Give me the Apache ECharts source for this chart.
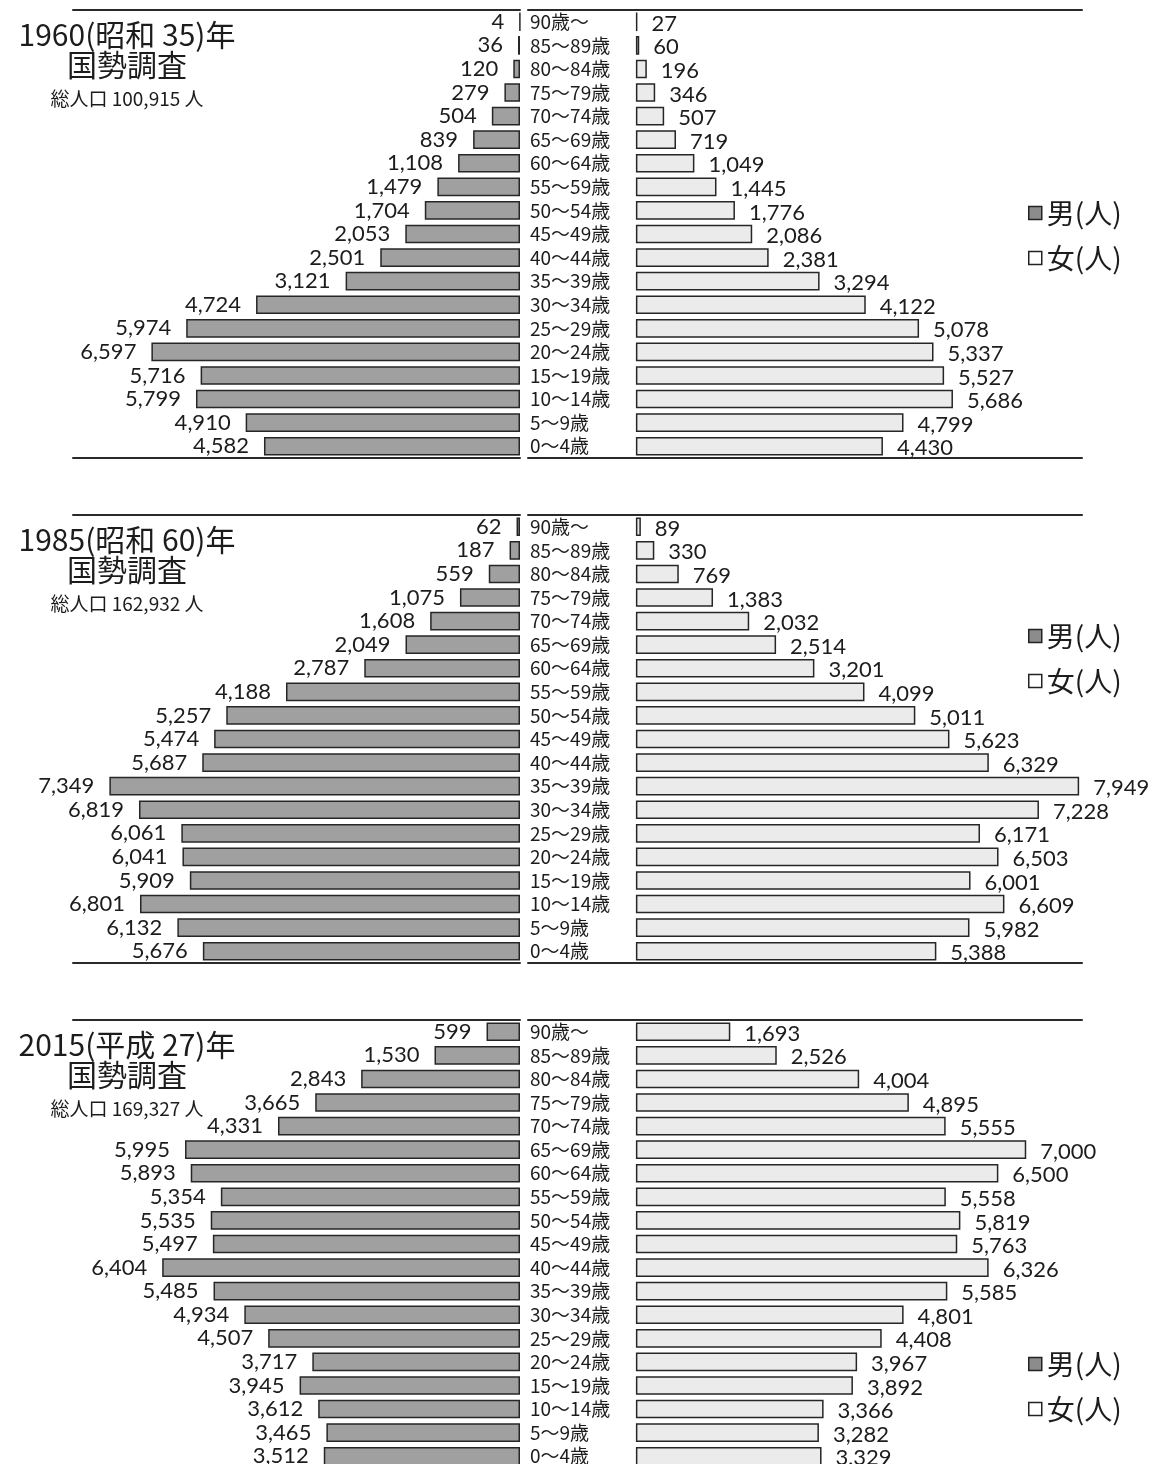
<!DOCTYPE html>
<html><head><meta charset="utf-8">
<script src="https://cdn.jsdelivr.net/npm/echarts@6/dist/echarts.min.js"></script>
<style>html,body{margin:0;padding:0;background:#fff}#c{width:1150px;height:1464px}</style>
</head><body><div id="c"></div>
<script>
// ---- data ----
const ages = ['90歳～','85～89歳','80～84歳','75～79歳','70～74歳','65～69歳','60～64歳','55～59歳','50～54歳','45～49歳','40～44歳','35～39歳','30～34歳','25～29歳','20～24歳','15～19歳','10～14歳','5～9歳','0～4歳'];
const male1960   = [4,36,120,279,504,839,1108,1479,1704,2053,2501,3121,4724,5974,6597,5716,5799,4910,4582];
const female1960 = [27,60,196,346,507,719,1049,1445,1776,2086,2381,3294,4122,5078,5337,5527,5686,4799,4430];
const male1985   = [62,187,559,1075,1608,2049,2787,4188,5257,5474,5687,7349,6819,6061,6041,5909,6801,6132,5676];
const female1985 = [89,330,769,1383,2032,2514,3201,4099,5011,5623,6329,7949,7228,6171,6503,6001,6609,5982,5388];
const male2015   = [599,1530,2843,3665,4331,5995,5893,5354,5535,5497,6404,5485,4934,4507,3717,3945,3612,3465,3512];
const female2015 = [1693,2526,4004,4895,5555,7000,6500,5558,5819,5763,6326,5585,4801,4408,3967,3892,3366,3282,3329];
const panelTitles = ['1960(昭和 35)年\n国勢調査','1985(昭和 60)年\n国勢調査','2015(平成 27)年\n国勢調査'];
const panelTotals = ['総人口 100,915 人','総人口 162,932 人','総人口 169,327 人'];
const seriesNames = ['男(人)','女(人)'];
const axisMax = 8000;
const femaleAxisMin = -1935;

// ---- layout ----
const panelMale = [male1960, male1985, male2015];
const panelFemale = [female1960, female1985, female2015];
const panelTops = [10, 515, 1020];
const legendTops = [194, 617, 1345];
const PANEL_H = 448;

const CJK = '"Noto Sans CJK JP", sans-serif';
const NUM = 'Lato, "Noto Sans", sans-serif';
const INK = '#1c1c1c';
const fmt = p => Number(p.value).toLocaleString('en-US');

const grid = [], xAxis = [], yAxis = [], series = [], title = [], legend = [];

panelTops.forEach((top, i) => {
  const gL = i * 2, gR = i * 2 + 1;
  grid.push({ left: 73, top: top, width: 447, height: PANEL_H, containLabel: false, outerBoundsMode: 'none' });
  grid.push({ left: 528, top: top, width: 554, height: PANEL_H, containLabel: false, outerBoundsMode: 'none' });
  const ruleLine = { show: true, onZero: false, lineStyle: { color: '#2a2a2a', width: 2 } };
  const hidden = { axisTick: { show: false }, axisLabel: { show: false }, splitLine: { show: false } };
  // male axes (top + bottom rule)
  xAxis.push(Object.assign({ type: 'value', gridIndex: gL, inverse: true, min: 0, max: axisMax, position: 'top', axisLine: ruleLine }, hidden));
  xAxis.push(Object.assign({ type: 'value', gridIndex: gL, inverse: true, min: 0, max: axisMax, position: 'bottom', axisLine: ruleLine }, hidden));
  // female axes
  xAxis.push(Object.assign({ type: 'value', gridIndex: gR, min: femaleAxisMin, max: axisMax, position: 'top', axisLine: ruleLine }, hidden));
  xAxis.push(Object.assign({ type: 'value', gridIndex: gR, min: femaleAxisMin, max: axisMax, position: 'bottom', axisLine: ruleLine }, hidden));
  yAxis.push({
    type: 'category', gridIndex: gL, data: ages, inverse: true, position: 'right',
    axisLine: { show: false }, axisTick: { show: false },
    axisLabel: { interval: 0, margin: 10, fontFamily: CJK, fontSize: 19, color: INK }
  });
  yAxis.push({ type: 'category', gridIndex: gR, data: ages, inverse: true, show: false });

  series.push({
    name: seriesNames[0], type: 'bar', xAxisIndex: i * 4, yAxisIndex: gL,
    data: panelMale[i], barCategoryGap: '21%',
    itemStyle: { color: '#a0a0a0', borderColor: '#262626', borderWidth: 1.5 },
    label: { show: true, position: 'left', distance: 15, formatter: fmt, fontFamily: NUM, fontSize: 22, color: INK },
    animation: false
  });
  series.push({
    name: seriesNames[1], type: 'bar', xAxisIndex: i * 4 + 2, yAxisIndex: gR,
    data: panelFemale[i], barCategoryGap: '21%',
    itemStyle: { color: '#ebebeb', borderColor: '#262626', borderWidth: 1.5 },
    label: { show: true, position: 'right', distance: 14, offset: [0, 2], formatter: fmt, fontFamily: NUM, fontSize: 22, color: INK },
    animation: false
  });

  title.push({
    text: panelTitles[i], subtext: panelTotals[i],
    left: 122, top: top + 5, textAlign: 'center', itemGap: 9,
    textStyle: { fontFamily: CJK, fontSize: 30, lineHeight: 30, fontWeight: 'normal', color: INK },
    subtextStyle: { fontFamily: CJK, fontSize: 19, lineHeight: 20, color: INK }
  });

  legend.push({
    orient: 'vertical', left: 1023, top: legendTops[i], itemGap: 17,
    itemWidth: 13, itemHeight: 13, icon: 'rect',
    textStyle: { fontFamily: CJK, fontSize: 28, color: INK },
    data: [
      { name: seriesNames[0], itemStyle: { color: '#8c8c8c', borderColor: '#222', borderWidth: 1.5 } },
      { name: seriesNames[1], itemStyle: { color: '#ffffff', borderColor: '#222', borderWidth: 1.5 } }
    ]
  });
});

const chart = echarts.init(document.getElementById('c'), null, { renderer: 'canvas' });
chart.setOption({ backgroundColor: '#ffffff', animation: false, title, legend, grid, xAxis, yAxis, series });
</script>
</body></html>
